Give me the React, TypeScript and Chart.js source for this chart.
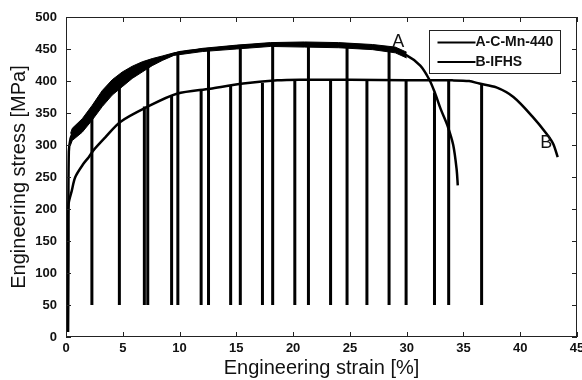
import React, { useEffect, useRef } from "react";
import { Chart, registerables } from "chart.js";

Chart.register(...registerables);

const FONT = "'Liberation Sans', Arial, Helvetica, sans-serif";

// Curve A: C-Mn-440 (strain %, stress MPa)
const aStrain = [0.17, 0.2, 0.25, 0.4, 0.55, 1.43, 2.31, 3.19, 4.07, 4.95, 5.83, 6.71, 7.59, 8.47, 9.5, 10, 12.7, 15.6, 18.6, 21, 24.7, 27, 28.5, 30, 31.2, 32.0, 32.5, 33.0, 33.6, 34.1, 34.4, 34.5];
const aStress = [8, 150, 290, 310, 316, 330, 350, 372, 390, 402, 413, 422, 430, 435, 442, 445, 450, 455, 458, 458, 457, 453, 449, 440, 424, 402, 381, 356, 330, 300, 262, 237];

// Noisy band of curve A (upper / lower envelopes)
const bandStrain = [0.4, 0.55, 1.43, 2.31, 3.19, 4.07, 4.95, 5.83, 6.71, 7.59, 8.47, 9.5, 12, 15, 18, 21, 24, 27, 29, 30];
const bandUpper = [318, 326, 341, 362, 385, 402, 414, 423, 430, 435, 439, 444, 451, 456, 460, 461, 460, 457, 453, 445];
const bandLower = [300, 307, 320, 339, 360, 378, 391, 404, 414, 424, 432, 440, 446, 450, 454, 453, 452, 449, 444, 436];

// Curve B: IFHS
const bStrain = [0.17, 0.2, 0.23, 0.5, 0.82, 1.55, 2.0, 2.43, 3.46, 4.78, 7.1, 9.76, 12.7, 15.6, 18.6, 20.6, 25, 30, 34, 35.5, 36.4, 37.9, 39.4, 41.1, 42.3, 42.9, 43.3];
const bStress = [8, 150, 208, 228, 250, 271, 281, 292, 312, 336, 359, 380, 388, 396, 401, 402, 402, 401, 401, 400, 396, 390, 375, 344, 318, 302, 281];

// Unloading (vertical) lines: strain position and top stress, all down to 50 MPa
const unloadStrain = [2.28, 4.7, 6.9, 7.2, 9.3, 9.85, 11.9, 12.55, 14.5, 15.35, 17.3, 18.2, 20.15, 21.35, 23.3, 24.75, 26.5, 28.45, 29.95, 32.45, 33.7, 36.6];
const unloadTop = [352, 395, 360, 428, 377, 443, 386, 450, 392, 455, 397, 458, 401, 458, 401, 457, 401, 450, 401, 382, 400, 395];
const unloadBottom = 50;

const legendLabels = ["A-C-Mn-440", "B-IFHS"];
const curveTags = [
  { text: "A", x: 29.25, y: 461 },
  { text: "B", x: 42.3, y: 303 },
];

function pts(xs: number[], ys: number[]) {
  return xs.map((x, i) => ({ x, y: ys[i] }));
}

const framePlugin = {
  id: "frame",
  afterDatasetsDraw(chart: any) {
    const { ctx, chartArea, scales } = chart;
    const { left, right, top, bottom } = chartArea;
    const x = scales.x;
    const y = scales.y;
    ctx.save();
    ctx.strokeStyle = "#222";
    ctx.lineWidth = 1;
    ctx.strokeRect(Math.round(left) + 0.5, Math.round(top) + 0.5, Math.round(right - left) - 1, Math.round(bottom - top) - 1);
    const tl = 5;
    ctx.beginPath();
    x.ticks.forEach((t: any) => {
      const px = Math.round(x.getPixelForValue(t.value)) + 0.5;
      ctx.moveTo(px, bottom);
      ctx.lineTo(px, bottom - tl);
      ctx.moveTo(px, top);
      ctx.lineTo(px, top + tl);
    });
    y.ticks.forEach((t: any) => {
      const py = Math.round(y.getPixelForValue(t.value)) + 0.5;
      ctx.moveTo(left, py);
      ctx.lineTo(left + tl, py);
      ctx.moveTo(right, py);
      ctx.lineTo(right - tl, py);
    });
    ctx.stroke();

    // curve tags
    ctx.fillStyle = "#111";
    ctx.font = `18px ${FONT}`;
    ctx.textAlign = "center";
    ctx.textBaseline = "middle";
    curveTags.forEach((t) => {
      ctx.fillText(t.text, x.getPixelForValue(t.x), y.getPixelForValue(t.y));
    });

    // legend box
    const bw = 131;
    const bh = 43;
    const bx = Math.round(right - 17 - bw) + 0.5;
    const by = Math.round(top + 13) + 0.5;
    ctx.fillStyle = "#fff";
    ctx.fillRect(bx, by, bw, bh);
    ctx.strokeStyle = "#222";
    ctx.lineWidth = 1;
    ctx.strokeRect(bx, by, bw, bh);
    ctx.font = `bold 14px ${FONT}`;
    ctx.textAlign = "left";
    ctx.fillStyle = "#111";
    legendLabels.forEach((lab, i) => {
      const ly = by + 12 + i * 19.5;
      ctx.strokeStyle = "#000";
      ctx.lineWidth = 2;
      ctx.beginPath();
      ctx.moveTo(bx + 8, ly);
      ctx.lineTo(bx + 46, ly);
      ctx.stroke();
      ctx.fillText(lab, bx + 46, ly);
    });
    ctx.restore();
  },
};

export default function App() {
  const ref = useRef<HTMLCanvasElement | null>(null);

  useEffect(() => {
    if (!ref.current) return;
    const unloadData: any[] = [];
    unloadStrain.forEach((sx, i) => {
      unloadData.push({ x: sx, y: unloadBottom });
      unloadData.push({ x: sx, y: unloadTop[i] });
      unloadData.push({ x: sx, y: null });
    });

    const chart = new Chart(ref.current, {
      type: "line",
      data: {
        datasets: [
          {
            label: "bandUpper",
            data: pts(bandStrain, bandUpper),
            borderColor: "#000",
            backgroundColor: "#000",
            borderWidth: 1,
            pointRadius: 0,
            fill: "+1",
            tension: 0,
          },
          {
            label: "bandLower",
            data: pts(bandStrain, bandLower),
            borderColor: "#000",
            borderWidth: 1,
            pointRadius: 0,
            fill: false,
            tension: 0,
          },
          {
            label: legendLabels[0],
            data: pts(aStrain, aStress),
            borderColor: "#000",
            borderWidth: 2.5,
            pointRadius: 0,
            fill: false,
            tension: 0.3,
          },
          {
            label: legendLabels[1],
            data: pts(bStrain, bStress),
            borderColor: "#000",
            borderWidth: 2.5,
            pointRadius: 0,
            fill: false,
            tension: 0.3,
          },
          {
            label: "unloading",
            data: unloadData,
            borderColor: "#000",
            borderWidth: 3,
            pointRadius: 0,
            fill: false,
            spanGaps: false,
            tension: 0,
          },
        ],
      },
      options: {
        animation: false,
        responsive: true,
        maintainAspectRatio: false,
        parsing: false as any,
        layout: { padding: { top: 17, right: 5, left: 0, bottom: 0 } },
        plugins: {
          legend: { display: false },
          tooltip: { enabled: false },
        },
        scales: {
          x: {
            type: "linear",
            min: 0,
            max: 45,
            ticks: {
              stepSize: 5,
              color: "#111",
              font: { family: FONT, size: 13, weight: "bold" },
              padding: 4,
              maxRotation: 0,
            },
            grid: { display: false, drawTicks: false },
            border: { display: false },
            title: {
              display: true,
              text: "Engineering strain [%]",
              color: "#111",
              font: { family: FONT, size: 20 },
              padding: { top: 0, bottom: 0 },
            },
            afterFit: (s: any) => {
              s.height = 43;
              s.paddingLeft = 0;
              s.paddingRight = 0;
            },
          },
          y: {
            type: "linear",
            min: 0,
            max: 500,
            ticks: {
              stepSize: 50,
              color: "#111",
              font: { family: FONT, size: 13, weight: "bold" },
              padding: 9,
            },
            grid: { display: false, drawTicks: false },
            border: { display: false },
            title: {
              display: true,
              text: "Engineering stress [MPa]",
              color: "#111",
              font: { family: FONT, size: 20 },
              padding: { top: 7, bottom: 0 },
            },
            afterFit: (s: any) => {
              s.width = 66;
              s.paddingTop = 0;
              s.paddingBottom = 0;
            },
          },
        },
      },
      plugins: [framePlugin],
    });
    return () => chart.destroy();
  }, []);

  return (
    <div style={{ position: "fixed", left: 0, top: 0, width: 582, height: 380, background: "#fff" }}>
      <canvas ref={ref} />
    </div>
  );
}
